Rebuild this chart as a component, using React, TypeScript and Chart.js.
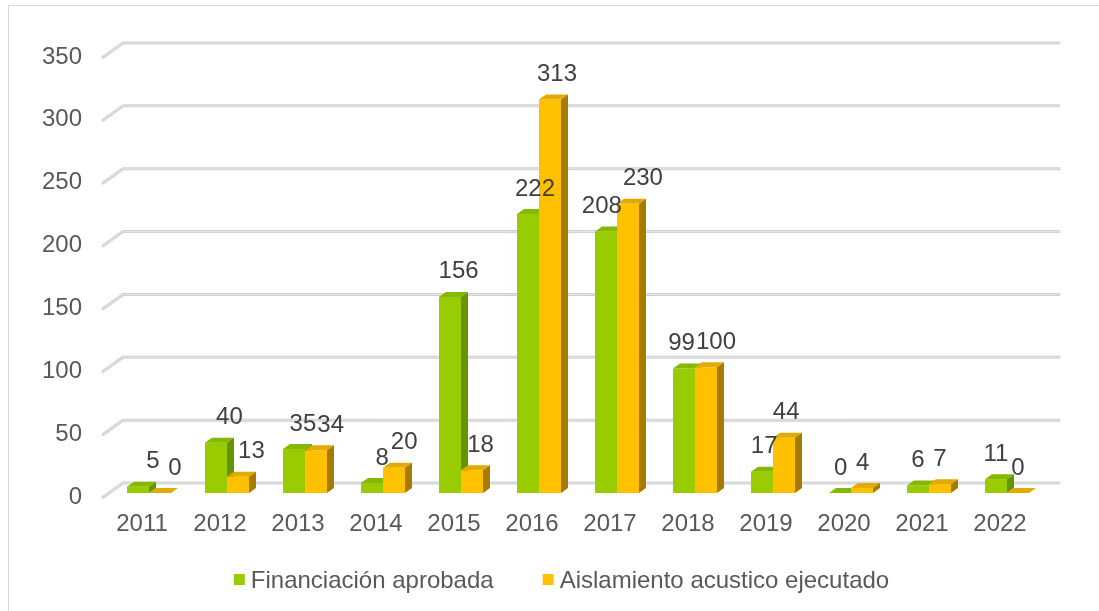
import { useEffect, useRef } from "react";
import { Chart, registerables } from "chart.js";

Chart.register(...registerables);

const years = ["2011", "2012", "2013", "2014", "2015", "2016", "2017", "2018", "2019", "2020", "2021", "2022"];
const financiacion = [5, 40, 35, 8, 156, 222, 208, 99, 17, 0, 6, 11];
const aislamiento = [0, 13, 34, 20, 18, 313, 230, 100, 44, 4, 7, 0];
const seriesNames = ["Financiación aprobada", "Aislamiento acustico ejecutado"];
const yMin = 0;
const yMax = 350;
const yStep = 50;

const W = 1099;
const H = 611;
const FONT = '"Liberation Sans", Arial, sans-serif';
const AXIS_COLOR = "#595959";
const LABEL_COLOR = "#404040";
const DX = 7;
const DY = 5;

const faces = [
  { front: "#99CC00", top: "#85B800", side: "#649400" },
  { front: "#FFC000", top: "#E3AA00", side: "#A67C00" },
];

const bars3d = {
  id: "bars3d",
  beforeDraw(chart: any) {
    const { ctx } = chart;
    ctx.save();
    ctx.fillStyle = "#ffffff";
    ctx.fillRect(0, 0, chart.width, chart.height);
    ctx.strokeStyle = "#d9d9d9";
    ctx.lineWidth = 1;
    ctx.strokeRect(8.5, 5.5, chart.width + 20, chart.height + 20);
    ctx.restore();
  },
  beforeDatasetsDraw(chart: any) {
    const { ctx, chartArea } = chart;
    const y = chart.scales.y;
    ctx.save();
    ctx.lineCap = "round";
    ctx.lineJoin = "round";
    for (const t of y.ticks) {
      const yb = y.getPixelForValue(t.value);
      const backY = yb - 10;
      const frontY = yb + 4.3;
      const x0 = chartArea.left - 7;
      const x1 = chartArea.left + 13;
      const x2 = chartArea.right + 13;
      const path = () => {
        ctx.beginPath();
        ctx.moveTo(x0, frontY);
        ctx.lineTo(x1, backY);
        ctx.lineTo(x2, backY);
      };
      path();
      ctx.lineWidth = 3;
      ctx.strokeStyle = "#d0d0d0";
      ctx.stroke();
      path();
      ctx.lineWidth = 1;
      ctx.strokeStyle = "#e6e6e6";
      ctx.stroke();
    }
    ctx.restore();
  },
  beforeDatasetDraw() {
    return false;
  },
  afterDatasetsDraw(chart: any) {
    const { ctx } = chart;
    const n = chart.data.labels.length;
    const metas = chart.data.datasets.map((_: any, d: number) => chart.getDatasetMeta(d));
    ctx.save();
    const labelItems: any[] = [];
    for (let i = 0; i < n; i++) {
      const group: any[] = [];
      metas.forEach((meta: any, d: number) => {
        const el = meta.data[i];
        const { x, y, base, width } = el.getProps(["x", "y", "base", "width"], true);
        const l = x - width / 2;
        const r = x + width / 2;
        const top = Math.min(y, base);
        const bottom = base;
        const f = faces[d];
        ctx.fillStyle = f.front;
        ctx.fillRect(l, top, width, bottom - top);
        ctx.fillStyle = f.top;
        ctx.beginPath();
        ctx.moveTo(l, top);
        ctx.lineTo(l + DX, top - DY);
        ctx.lineTo(r + DX, top - DY);
        ctx.lineTo(r, top);
        ctx.closePath();
        ctx.fill();
        ctx.fillStyle = f.side;
        ctx.beginPath();
        ctx.moveTo(r, top);
        ctx.lineTo(r + DX, top - DY);
        ctx.lineTo(r + DX, bottom - DY);
        ctx.lineTo(r, bottom);
        ctx.closePath();
        ctx.fill();
        const value = chart.data.datasets[d].data[i];
        group.push({ text: String(value), cx: x, top });
      });
      labelItems.push(group);
    }
    // data labels
    ctx.font = `24px ${FONT}`;
    ctx.fillStyle = LABEL_COLOR;
    ctx.textAlign = "center";
    ctx.textBaseline = "alphabetic";
    labelItems.forEach((group, i) => {
      const shift = Math.max(0, 15 - 1.6 * i);
      const items = group.map((g: any) => {
        const w = ctx.measureText(g.text).width;
        return { ...g, w, x: g.cx + shift, yc: g.top - 27 };
      });
      if (items.length === 2) {
        const [a, b] = items;
        if (Math.abs(a.yc - b.yc) < 30) {
          const overlap = a.x + a.w / 2 - (b.x - b.w / 2) + 1;
          if (overlap > 0) {
            a.x -= overlap / 2;
            b.x += overlap / 2;
          }
        }
      }
      items.forEach((it: any) => {
        ctx.fillText(it.text, it.x, it.yc + 8.6);
      });
    });
    ctx.restore();
  },
  afterDraw(chart: any) {
    const { ctx } = chart;
    ctx.save();
    ctx.font = `24px ${FONT}`;
    ctx.textAlign = "left";
    ctx.textBaseline = "alphabetic";
    const box = 11;
    const gap = 6;
    const itemGap = 49;
    const widths = seriesNames.map((s) => box + gap + ctx.measureText(s).width);
    const total = widths.reduce((a, b) => a + b, 0) + itemGap * (seriesNames.length - 1);
    let x = (chart.width - total) / 2 + 12;
    const baseline = 588;
    seriesNames.forEach((s, d) => {
      ctx.fillStyle = faces[d].front;
      ctx.fillRect(x, baseline - 14, box, box);
      ctx.fillStyle = AXIS_COLOR;
      ctx.fillText(s, x + box + gap, baseline);
      x += widths[d] + itemGap;
    });
    ctx.restore();
  },
};

export default function App() {
  const ref = useRef<HTMLCanvasElement | null>(null);
  useEffect(() => {
    if (!ref.current) return;
    const chart = new Chart(ref.current, {
      type: "bar",
      data: {
        labels: years,
        datasets: [
          { label: seriesNames[0], data: financiacion, backgroundColor: faces[0].front },
          { label: seriesNames[1], data: aislamiento, backgroundColor: faces[1].front },
        ],
      },
      options: {
        responsive: false,
        animation: false,
        devicePixelRatio: 1,
        layout: { padding: { left: 0, right: 53, top: 53, bottom: 58 } },
        datasets: { bar: { categoryPercentage: 0.564, barPercentage: 1 } },
        plugins: { legend: { display: false }, tooltip: { enabled: false } },
        scales: {
          x: {
            grid: { display: false, drawTicks: false },
            border: { display: false },
            ticks: {
              font: { family: FONT, size: 24 },
              color: AXIS_COLOR,
              padding: 17,
              labelOffset: -7,
              maxRotation: 0,
              autoSkip: false,
            },
            afterFit: (s: any) => {
              s.height = 60;
            },
          },
          y: {
            min: yMin,
            max: yMax,
            grid: { display: false, drawTicks: false },
            border: { display: false },
            ticks: {
              stepSize: yStep,
              font: { family: FONT, size: 24 },
              color: AXIS_COLOR,
              padding: 28,
              labelOffset: 4,
            },
            afterFit: (s: any) => {
              s.width = 110;
            },
          },
        },
      },
      plugins: [bars3d],
    } as any);
    return () => chart.destroy();
  }, []);
  return (
    <div style={{ position: "fixed", left: 0, top: 0, width: W, height: H, background: "#fff" }}>
      <canvas ref={ref} width={W} height={H} style={{ display: "block", width: W, height: H }} />
    </div>
  );
}
